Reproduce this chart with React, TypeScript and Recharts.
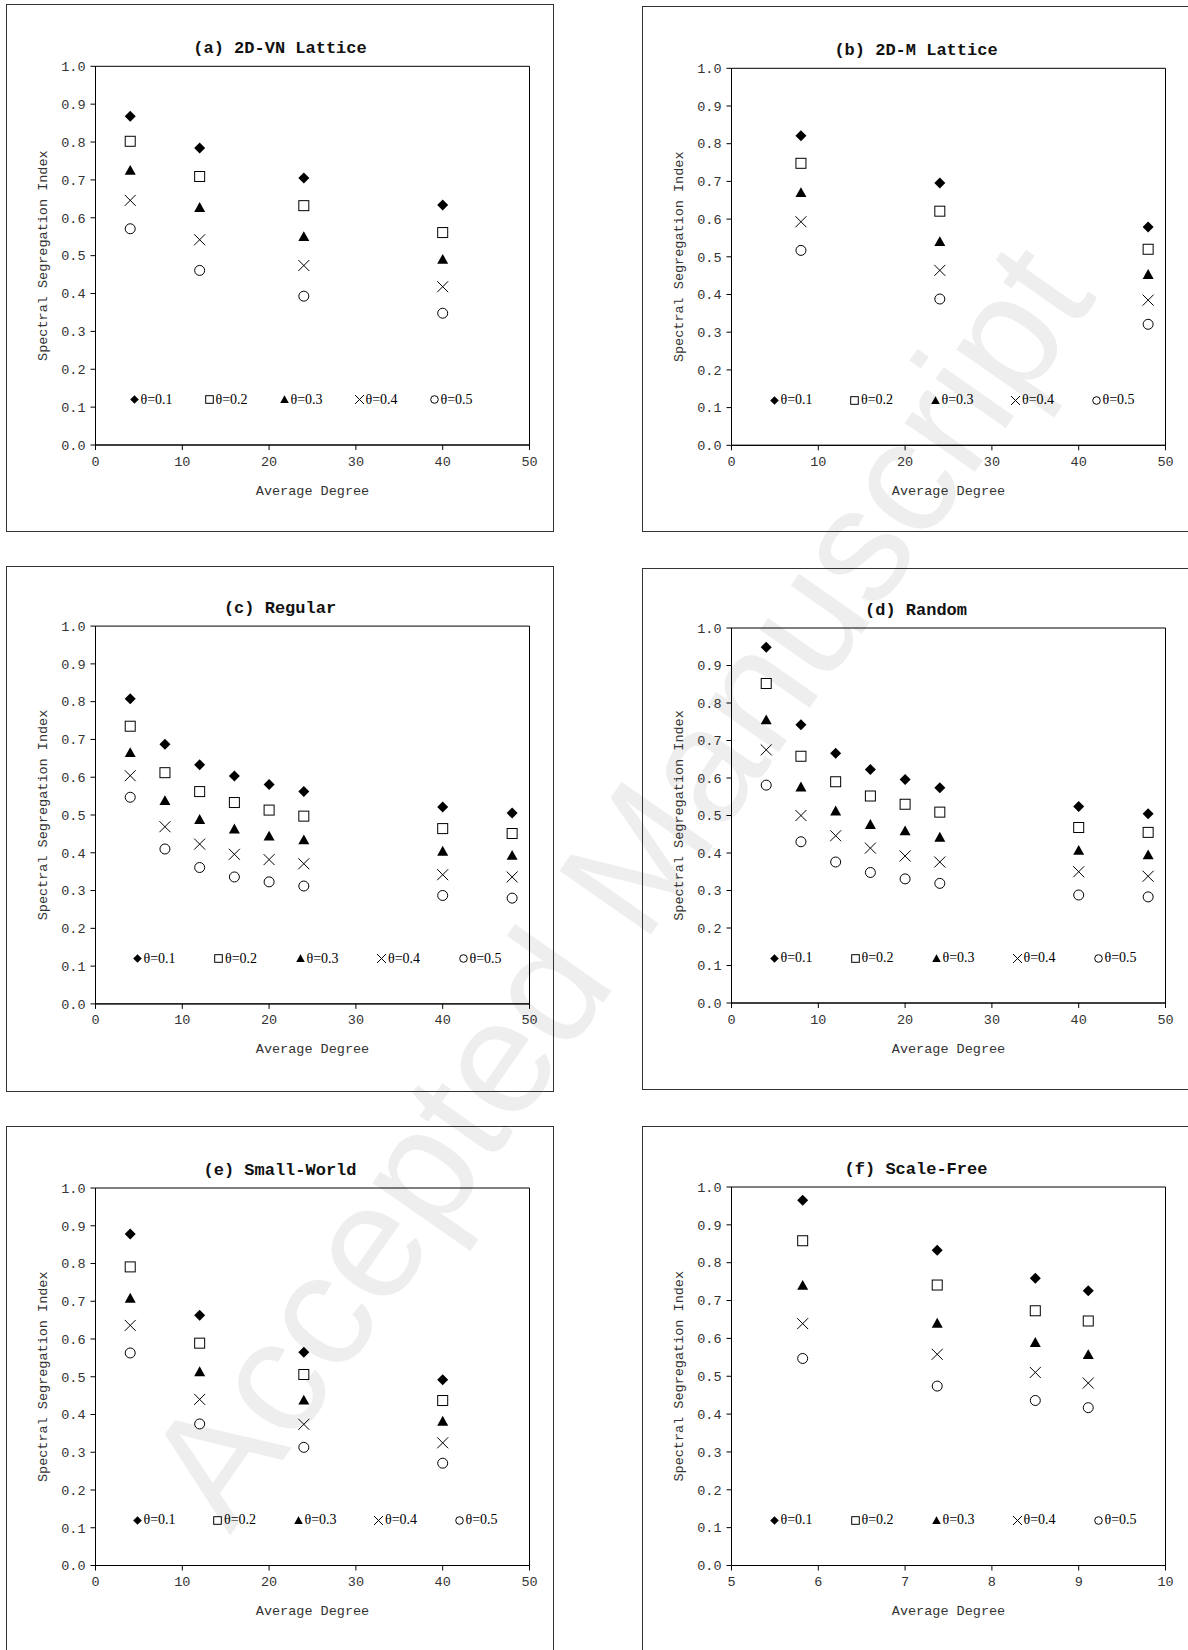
import { ScatterChart, Scatter, XAxis, YAxis, ReferenceArea, Legend } from 'recharts'

// theta series labels, shared by all six panels
const THETAS = ['θ=0.1', 'θ=0.2', 'θ=0.3', 'θ=0.4', 'θ=0.5']
const MARKERS = ['diamond', 'square', 'triangle', 'x', 'circle']

const Y_TICKS = [0, 0.1, 0.2, 0.3, 0.4, 0.5, 0.6, 0.7, 0.8, 0.9, 1.0]
const X_TICKS_DEG = [0, 10, 20, 30, 40, 50]
const X_TICKS_SF = [5, 6, 7, 8, 9, 10]

// (a) 2D-VN lattice
const DEG_VN = [4, 12, 24, 40]
const SSI_VN = [
  [0.868, 0.784, 0.705, 0.634],
  [0.802, 0.709, 0.632, 0.561],
  [0.725, 0.627, 0.55, 0.49],
  [0.646, 0.542, 0.474, 0.418],
  [0.571, 0.461, 0.393, 0.348],
]

// (b) 2D-M lattice
const DEG_M = [8, 24, 48]
const SSI_M = [
  [0.821, 0.696, 0.579],
  [0.748, 0.621, 0.52],
  [0.67, 0.54, 0.453],
  [0.593, 0.464, 0.385],
  [0.517, 0.388, 0.321],
]

// (c) regular
const DEG_REG = [4, 8, 12, 16, 20, 24, 40, 48]
const SSI_REG = [
  [0.808, 0.687, 0.633, 0.603, 0.581, 0.562, 0.521, 0.505],
  [0.735, 0.612, 0.562, 0.533, 0.513, 0.497, 0.464, 0.451],
  [0.665, 0.538, 0.488, 0.463, 0.444, 0.434, 0.404, 0.393],
  [0.604, 0.469, 0.423, 0.396, 0.382, 0.371, 0.342, 0.336],
  [0.547, 0.41, 0.361, 0.336, 0.323, 0.312, 0.287, 0.28],
]

// (d) random
const DEG_RND = [4, 8, 12, 16, 20, 24, 40, 48]
const SSI_RND = [
  [0.949, 0.742, 0.666, 0.623, 0.596, 0.574, 0.524, 0.505],
  [0.852, 0.658, 0.59, 0.552, 0.53, 0.509, 0.468, 0.455],
  [0.755, 0.576, 0.512, 0.476, 0.459, 0.442, 0.407, 0.395],
  [0.675, 0.5, 0.446, 0.413, 0.392, 0.376, 0.35, 0.338],
  [0.581, 0.43, 0.376, 0.348, 0.331, 0.319, 0.288, 0.283],
]

// (e) small-world
const DEG_SW = [4, 12, 24, 40]
const SSI_SW = [
  [0.878, 0.663, 0.565, 0.492],
  [0.791, 0.589, 0.506, 0.437],
  [0.708, 0.513, 0.438, 0.382],
  [0.636, 0.44, 0.374, 0.325],
  [0.563, 0.375, 0.313, 0.271],
]

// (f) scale-free
const DEG_SF = [5.82, 7.37, 8.5, 9.11]
const SSI_SF = [
  [0.965, 0.833, 0.759, 0.726],
  [0.858, 0.741, 0.673, 0.646],
  [0.74, 0.64, 0.589, 0.557],
  [0.639, 0.558, 0.51, 0.482],
  [0.547, 0.474, 0.436, 0.417],
]

const PANELS = [
  { title: '(a) 2D-VN Lattice', deg: DEG_VN, ssi: SSI_VN, xDomain: [0, 50], xTicks: X_TICKS_DEG, left: 7, top: 5, height: 526, plotTop: 61.3, plotH: 378.7, lgStart: 38, lgStep: 75 },
  { title: '(b) 2D-M Lattice', deg: DEG_M, ssi: SSI_M, xDomain: [0, 50], xTicks: X_TICKS_DEG, left: 643, top: 7, height: 524, plotTop: 61.3, plotH: 377, lgStart: 42, lgStep: 80.5 },
  { title: '(c) Regular', deg: DEG_REG, ssi: SSI_REG, xDomain: [0, 50], xTicks: X_TICKS_DEG, left: 7, top: 567, height: 524, plotTop: 59.1, plotH: 377.8, lgStart: 41, lgStep: 81.5 },
  { title: '(d) Random', deg: DEG_RND, ssi: SSI_RND, xDomain: [0, 50], xTicks: X_TICKS_DEG, left: 643, top: 569, height: 520, plotTop: 59, plotH: 375, lgStart: 42, lgStep: 81 },
  { title: '(e) Small-World', deg: DEG_SW, ssi: SSI_SW, xDomain: [0, 50], xTicks: X_TICKS_DEG, left: 7, top: 1127, height: 530, plotTop: 61, plotH: 377.5, lgStart: 41, lgStep: 80.5 },
  { title: '(f) Scale-Free', deg: DEG_SF, ssi: SSI_SF, xDomain: [5, 10], xTicks: X_TICKS_SF, left: 643, top: 1127, height: 530, plotTop: 60, plotH: 378.5, lgStart: 42, lgStep: 81 },
]

const BOX_W = 546
const PLOT_LEFT = 88.5
const PLOT_W = 434
const Y_AXIS_W = 40
const X_AXIS_H = 30

const MONO = '"Liberation Mono", "Courier New", monospace'
const SERIF = '"Liberation Serif", "Times New Roman", serif'

function Marker({ kind, cx, cy, r }: { kind: string; cx: number; cy: number; r: number }) {
  if (cx == null || cy == null) return null
  switch (kind) {
    case 'diamond':
      return <polygon points={`${cx},${cy - r} ${cx + r},${cy} ${cx},${cy + r} ${cx - r},${cy}`} fill="#000" />
    case 'square':
      return <rect x={cx - r + 0.5} y={cy - r + 0.5} width={2 * r - 1} height={2 * r - 1} fill="#fff" stroke="#000" strokeWidth={1} />
    case 'triangle':
      return <polygon points={`${cx},${cy - r} ${cx + r},${cy + r * 0.8} ${cx - r},${cy + r * 0.8}`} fill="#000" />
    case 'x':
      return (
        <g stroke="#000" strokeWidth={1}>
          <line x1={cx - r} y1={cy - r} x2={cx + r} y2={cy + r} />
          <line x1={cx - r} y1={cy + r} x2={cx + r} y2={cy - r} />
        </g>
      )
    default:
      return <circle cx={cx} cy={cy} r={r - 0.5} fill="#fff" stroke="#000" strokeWidth={1} />
  }
}

function LegendRow({ start, step }: { start: number; step: number }) {
  return (
    <div style={{ position: 'relative', width: PLOT_W, height: 18 }}>
      {THETAS.map((label, i) => (
        <div
          key={label}
          style={{ position: 'absolute', left: start + step * i - 5, top: 0, height: 18, display: 'flex', alignItems: 'center', whiteSpace: 'nowrap' }}
        >
          <svg width={11} height={11} style={{ display: 'block' }}>
            <Marker kind={MARKERS[i]} cx={5.5} cy={5.5} r={MARKERS[i] === 'x' ? 4.5 : 4.3} />
          </svg>
          <span style={{ fontFamily: SERIF, fontSize: 14, color: '#000', marginLeft: 1, lineHeight: '18px' }}>{label}</span>
        </div>
      ))}
    </div>
  )
}

function Panel({ p }: { p: (typeof PANELS)[number] }) {
  const bottom = p.height - p.plotTop - p.plotH - X_AXIS_H
  const legendTop = p.plotTop + p.plotH * (1 - 0.12) - 9
  return (
    <div style={{ position: 'absolute', left: p.left, top: p.top, width: BOX_W, height: p.height, outline: '1px solid #333' }}>
      <ScatterChart
        width={BOX_W}
        height={p.height}
        margin={{ top: p.plotTop, left: PLOT_LEFT - Y_AXIS_W, right: BOX_W - PLOT_LEFT - PLOT_W, bottom }}
      >
        <XAxis
          type="number"
          dataKey="x"
          domain={p.xDomain}
          ticks={p.xTicks}
          allowDecimals
          height={X_AXIS_H}
          axisLine={{ stroke: '#000' }}
          tickLine={{ stroke: '#000' }}
          tickSize={5}
          tickMargin={6}
          tick={{ fontSize: 13.5, fill: '#333', fontFamily: MONO }}
          label={{
            content: (props: any) => {
              const vb = props.viewBox
              return (
                <text x={vb.x + vb.width / 2} y={vb.y + 46} textAnchor="middle" dominantBaseline="central" fontFamily={MONO} fontSize={13.5} fill="#333">
                  Average Degree
                </text>
              )
            },
          }}
        />
        <YAxis
          type="number"
          dataKey="y"
          domain={[0, 1]}
          ticks={Y_TICKS}
          width={Y_AXIS_W}
          axisLine={{ stroke: '#000' }}
          tickLine={{ stroke: '#000' }}
          tickSize={5}
          tickMargin={5}
          tickFormatter={(v: number) => v.toFixed(1)}
          tick={{ fontSize: 13.5, fill: '#333', fontFamily: MONO }}
          label={{
            content: (props: any) => {
              const vb = props.viewBox
              const x = vb.x + vb.width - 52
              const y = vb.y + vb.height / 2
              return (
                <text x={x} y={y} transform={`rotate(-90 ${x} ${y})`} textAnchor="middle" dominantBaseline="central" fontFamily={MONO} fontSize={13.5} fill="#333">
                  Spectral Segregation Index
                </text>
              )
            },
          }}
        />
        <ReferenceArea
          x1={p.xDomain[0]}
          x2={p.xDomain[1]}
          y1={0}
          y2={1}
          fill="none"
          stroke="#000"
          strokeWidth={1}
          label={{
            content: (props: any) => {
              const vb = props.viewBox
              return (
                <text x={BOX_W / 2} y={vb.y - 18} textAnchor="middle" dominantBaseline="central" fontFamily={MONO} fontWeight="bold" fontSize={17} fill="#111">
                  {p.title}
                </text>
              )
            },
          }}
        />
        {THETAS.map((name, t) => (
          <Scatter
            key={name}
            name={name}
            data={p.deg.map((x, i) => ({ x, y: p.ssi[t][i] }))}
            isAnimationActive={false}
            shape={(s: any) => <Marker kind={MARKERS[t]} cx={s.cx} cy={s.cy} r={5.5} />}
          />
        ))}
        <Legend
          layout="horizontal"
          verticalAlign="middle"
          align="center"
          wrapperStyle={{ left: PLOT_LEFT, top: legendTop, width: PLOT_W, height: 18, margin: 0 }}
          content={() => <LegendRow start={p.lgStart} step={p.lgStep} />}
        />
      </ScatterChart>
    </div>
  )
}

export default function App() {
  return (
    <div style={{ position: 'absolute', left: 0, top: 0, width: 1188, height: 1650, overflow: 'hidden', background: '#fff' }}>
      <div
        style={{
          position: 'absolute',
          left: 618,
          top: 884,
          transform: 'translate(-50%, -50%) rotate(-55deg)',
          fontFamily: '"Liberation Sans", Arial, sans-serif',
          fontSize: 162,
          color: '#eeeeee',
          whiteSpace: 'nowrap',
          lineHeight: 1,
        }}
      >
        Accepted Manuscript
      </div>
      {PANELS.map((p) => (
        <Panel key={p.title} p={p} />
      ))}
    </div>
  )
}
